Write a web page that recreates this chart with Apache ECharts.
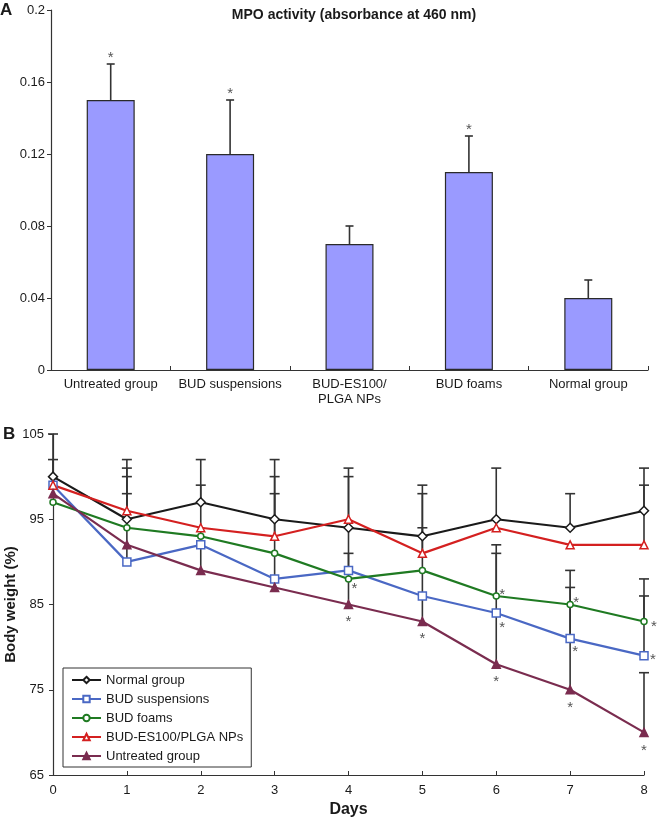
<!DOCTYPE html>
<html>
<head>
<meta charset="utf-8">
<script src="https://cdn.jsdelivr.net/npm/echarts@6/dist/echarts.min.js"></script>
<style>
html,body{margin:0;padding:0;background:#fff;}
#main{width:657px;height:820px;}
</style>
</head>
<body>
<div id="main"></div>
<script>
// ---------- Panel A data ----------
const barCategories = ['Untreated group', 'BUD suspensions', 'BUD-ES100/\nPLGA NPs', 'BUD foams', 'Normal group'];
const mpoValues = [0.15, 0.12, 0.07, 0.11, 0.04];
const mpoErrors = [0.02, 0.03, 0.01, 0.02, 0.01];
const mpoSig = [true, true, false, true, false];
const mpoTicks = [0, 0.04, 0.08, 0.12, 0.16, 0.2];

// ---------- Panel B data ----------
const days = [0, 1, 2, 3, 4, 5, 6, 7, 8];
const normalGroup   = [100, 95, 97, 95, 94, 93, 95, 94, 96];
const budSuspension = [99, 90, 92, 88, 89, 86, 84, 81, 79];
const budFoams      = [97, 94, 93, 91, 88, 89, 86, 85, 83];
const budNPs        = [99, 96, 94, 93, 95, 91, 94, 92, 92];
const untreated     = [98, 92, 89, 87, 85, 83, 78, 75, 70];

const errNormal     = [5, 7, 5, 7, 7, 6, 6, 4, 5];
const errSuspension = [0, 8, 0, 0, 11, 0, 0, 6, 7];
const errFoams      = [0, 6, 0, 0, 0, 0, 5, 0, 5];
const errNPs        = [3, 5, 0, 7, 0, 7, 0, 0, 7];
const errUntreated  = [0, 0, 10, 11, 6, 11, 14, 14, 7];

const sigSuspension = [6, 7, 8];
const sigFoams      = [4, 6, 7, 8];
const sigUntreated  = [4, 5, 6, 7, 8];

const weightTicks = [65, 75, 85, 95, 105];
const dayTicks = [0, 1, 2, 3, 4, 5, 6, 7, 8];

// ---------- styles ----------
const FONT = 'Arial, "Liberation Sans", sans-serif';
const TXT = '#1a1a1a';
const ERR = '#333333';

// star offsets (style only)
const starStyle = {
  foams:     {4: [6, 10], 6: [6, -1], 7: [6, -2], 8: [10, 5]},
  suspension:{6: [6, 15], 7: [5, 13], 8: [9, 4]},
  untreated: {4: [0, 17], 5: [0, 17], 6: [0, 18], 7: [0, 18], 8: [0, 18]}
};

function lineData(vals, sig, offs) {
  return days.map((d, i) => {
    const item = {value: [d, vals[i]]};
    if (sig && sig.indexOf(d) >= 0) {
      item.label = {
        show: true, formatter: '*', position: 'inside',
        offset: offs[d], color: '#555', fontSize: 15, fontFamily: FONT
      };
    }
    return item;
  });
}

function errData(vals, errs) {
  const out = [];
  days.forEach((d, i) => { if (errs[i] > 0) out.push([d, vals[i], vals[i] + errs[i]]); });
  return out;
}

function errRender(capHalf) {
  return function (params, api) {
    const p0 = api.coord([api.value(0), api.value(1)]);
    const p1 = api.coord([api.value(0), api.value(2)]);
    const st = {stroke: ERR, lineWidth: 1.6};
    return {
      type: 'group',
      children: [
        {type: 'line', shape: {x1: p0[0], y1: p0[1], x2: p1[0], y2: p1[1]}, style: st},
        {type: 'line', shape: {x1: p1[0] - capHalf, y1: p1[1], x2: p1[0] + capHalf, y2: p1[1]}, style: st}
      ]
    };
  };
}

function errSeries(vals, errs) {
  return {
    type: 'custom', xAxisIndex: 1, yAxisIndex: 1, z: 1,
    renderItem: errRender(5), data: errData(vals, errs), silent: true
  };
}

const lineStyles = [
  {name: 'Normal group', data: normalGroup, color: '#1a1a1a', symbol: 'diamond', size: 9, fill: '#ffffff'},
  {name: 'BUD suspensions', data: budSuspension, color: '#4a68c4', symbol: 'rect', size: 8, fill: '#ffffff'},
  {name: 'BUD foams', data: budFoams, color: '#1f7a22', symbol: 'circle', size: 6, fill: '#ffffff'},
  {name: 'BUD-ES100/PLGA NPs', data: budNPs, color: '#d42020', symbol: 'triangle', size: 8, fill: '#ffffff'},
  {name: 'Untreated group', data: untreated, color: '#7a2c4f', symbol: 'triangle', size: 8, fill: '#7a2c4f'}
];
const sigMap = {'BUD suspensions': [sigSuspension, starStyle.suspension], 'BUD foams': [sigFoams, starStyle.foams], 'Untreated group': [sigUntreated, starStyle.untreated]};

const lineSeries = lineStyles.map(s => ({
  name: s.name, type: 'line', xAxisIndex: 1, yAxisIndex: 1, z: 3,
  data: lineData(s.data, sigMap[s.name] ? sigMap[s.name][0] : null, sigMap[s.name] ? sigMap[s.name][1] : null),
  symbol: s.symbol, symbolSize: s.size, showAllSymbol: true,
  lineStyle: {color: s.color, width: 2.2},
  itemStyle: {color: s.fill, borderColor: s.color, borderWidth: 1.5},
  emphasis: {disabled: true}, animation: false
}));

const chart = echarts.init(document.getElementById('main'), null, {renderer: 'canvas'});
chart.setOption({
  animation: false,
  backgroundColor: '#ffffff',
  textStyle: {fontFamily: FONT},
  title: [
    {text: 'MPO activity (absorbance at 460 nm)', left: 349, top: 3, textAlign: 'center',
     textStyle: {fontSize: 14, fontWeight: 'bold', color: TXT, fontFamily: FONT}}
  ],
  graphic: [
    {type: 'text', left: 0, top: 2, style: {text: 'A', font: 'bold 17px ' + FONT, fill: TXT}},
    {type: 'text', left: 3, top: 426, style: {text: 'B', font: 'bold 17px ' + FONT, fill: TXT}}
  ],
  legend: {
    data: lineStyles.map(s => s.name),
    orient: 'vertical', left: 63, top: 668,
    padding: [5, 8, 4, 8], itemGap: 5, itemWidth: 29, itemHeight: 8,
    borderColor: '#333', borderWidth: 1, backgroundColor: '#ffffff',
    textStyle: {fontSize: 13, color: TXT, fontFamily: FONT, lineHeight: 14},
    selectedMode: false
  },
  grid: [
    {left: 51, top: 10, width: 597, height: 360, containLabel: false, outerBoundsMode: 'none'},
    {left: 53, top: 434, width: 591, height: 341, containLabel: false, outerBoundsMode: 'none'}
  ],
  xAxis: [
    {type: 'category', gridIndex: 0, data: barCategories, boundaryGap: true,
     axisLine: {lineStyle: {color: '#333', width: 1.2}},
     axisTick: {show: true, inside: true, length: 4, alignWithLabel: false, lineStyle: {color: '#333'}},
     axisLabel: {fontSize: 13, color: TXT, margin: 7, lineHeight: 15, interval: 0, fontFamily: FONT},
     splitLine: {show: false}},
    {type: 'value', gridIndex: 1, min: 0, max: 8, interval: 1,
     name: 'Days', nameLocation: 'middle', nameGap: 27, nameMoveOverlap: false,
     nameTextStyle: {fontSize: 16, fontWeight: 'bold', color: TXT, fontFamily: FONT},
     axisLine: {lineStyle: {color: '#333', width: 1.2}},
     axisTick: {show: true, inside: true, length: 4, lineStyle: {color: '#333'}, customValues: dayTicks},
     axisLabel: {fontSize: 13, color: TXT, margin: 9, fontFamily: FONT, customValues: dayTicks},
     splitLine: {show: false}}
  ],
  yAxis: [
    {type: 'value', gridIndex: 0, min: 0, max: 0.2, interval: 0.04,
     axisLine: {show: true, lineStyle: {color: '#333', width: 1.2}},
     axisTick: {show: true, length: 4, lineStyle: {color: '#333'}},
     axisLabel: {fontSize: 13, color: TXT, margin: 6, fontFamily: FONT,
       formatter: v => String(+v.toFixed(2))},
     splitLine: {show: false}},
    {type: 'value', gridIndex: 1, min: 65, max: 105,
     name: 'Body weight (%)', nameLocation: 'middle', nameGap: 35, nameRotate: 90, nameMoveOverlap: false,
     nameTextStyle: {fontSize: 15, fontWeight: 'bold', color: TXT, fontFamily: FONT},
     axisLine: {show: true, lineStyle: {color: '#333', width: 1.2}},
     axisTick: {show: true, length: 4, lineStyle: {color: '#333'}, customValues: weightTicks},
     axisLabel: {fontSize: 13, color: TXT, margin: 9, fontFamily: FONT, customValues: weightTicks},
     splitLine: {show: false}}
  ],
  series: [
    {type: 'bar', xAxisIndex: 0, yAxisIndex: 0, data: mpoValues, barWidth: 48,
     itemStyle: {color: '#9a9aff', borderColor: '#2a2a2a', borderWidth: 1.2}, z: 2, silent: true},
    {type: 'custom', xAxisIndex: 0, yAxisIndex: 0, z: 3, silent: true,
     data: mpoValues.map((v, i) => [i, v, v + mpoErrors[i], mpoSig[i] ? 1 : 0]),
     renderItem: function (params, api) {
       const p0 = api.coord([api.value(0), api.value(1)]);
       const p1 = api.coord([api.value(0), api.value(2)]);
       const st = {stroke: ERR, lineWidth: 1.6};
       const ch = [
         {type: 'line', shape: {x1: p0[0], y1: p0[1], x2: p1[0], y2: p1[1]}, style: st},
         {type: 'line', shape: {x1: p1[0] - 4, y1: p1[1], x2: p1[0] + 4, y2: p1[1]}, style: st}
       ];
       if (api.value(3)) {
         ch.push({type: 'text', style: {text: '*', x: p1[0], y: p1[1] + 1, align: 'center', verticalAlign: 'bottom',
           fill: '#555', font: '15px ' + FONT}});
       }
       return {type: 'group', children: ch};
     }},
    errSeries(normalGroup, errNormal),
    errSeries(budSuspension, errSuspension),
    errSeries(budFoams, errFoams),
    errSeries(budNPs, errNPs),
    errSeries(untreated, errUntreated)
  ].concat(lineSeries)
});
</script>
</body>
</html>
